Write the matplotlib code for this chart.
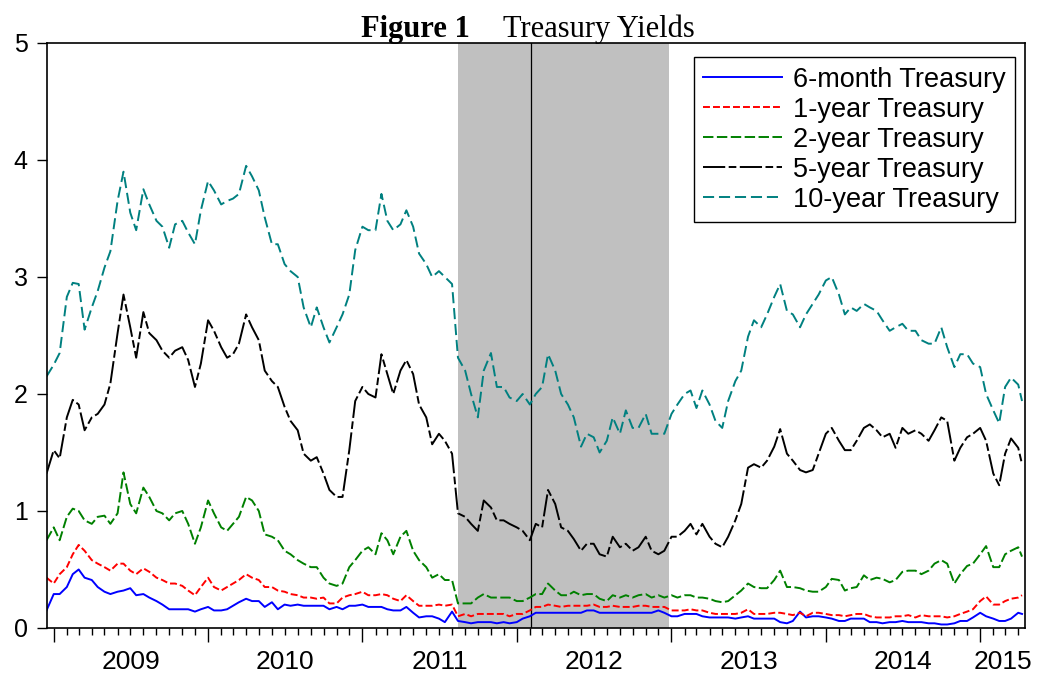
import matplotlib
matplotlib.use("Agg")
import matplotlib.pyplot as plt
import matplotlib.dates as mdates
import pandas as pd

# semi-monthly readings (1st and 15th), last point is the end of the sample
dates = list(pd.date_range("2008-12-15", "2015-04-01", freq="SMS")) + [pd.Timestamp("2015-04-10")]

t6m = [0.15,
       0.29, 0.29, 0.35, 0.46, 0.50, 0.43, 0.41, 0.35, 0.31, 0.29, 0.31, 0.32, 0.34, 0.28, 0.29, 0.26, 0.23, 0.20, 0.16, 0.16, 0.16, 0.16, 0.14, 0.16,
       0.18, 0.15, 0.15, 0.16, 0.19, 0.22, 0.25, 0.23, 0.23, 0.18, 0.22, 0.16, 0.20, 0.19, 0.20, 0.19, 0.19, 0.19, 0.19, 0.16, 0.18, 0.16, 0.19, 0.19,
       0.20, 0.18, 0.18, 0.18, 0.16, 0.15, 0.15, 0.18, 0.13, 0.09, 0.10, 0.10, 0.08, 0.05, 0.14, 0.06, 0.05, 0.04, 0.05, 0.05, 0.05, 0.04, 0.05, 0.04,
       0.05, 0.08, 0.10, 0.13, 0.13, 0.13, 0.13, 0.13, 0.13, 0.13, 0.13, 0.15, 0.15, 0.13, 0.13, 0.13, 0.13, 0.13, 0.13, 0.13, 0.13, 0.13, 0.15, 0.13,
       0.10, 0.10, 0.12, 0.12, 0.12, 0.10, 0.09, 0.09, 0.09, 0.09, 0.08, 0.09, 0.10, 0.08, 0.08, 0.08, 0.08, 0.05, 0.04, 0.06, 0.14, 0.09, 0.10, 0.10,
       0.09, 0.08, 0.06, 0.06, 0.08, 0.08, 0.08, 0.05, 0.05, 0.04, 0.05, 0.05, 0.06, 0.05, 0.05, 0.05, 0.04, 0.04, 0.03, 0.03, 0.04, 0.06, 0.06, 0.09,
       0.13, 0.10, 0.08, 0.06, 0.06, 0.08, 0.13, 0.12]

t1y = [0.43,
       0.38, 0.46, 0.52, 0.63, 0.71, 0.66, 0.58, 0.55, 0.52, 0.49, 0.55, 0.55, 0.49, 0.46, 0.51, 0.48, 0.43, 0.41, 0.38, 0.38, 0.36, 0.32, 0.28, 0.35,
       0.43, 0.35, 0.32, 0.35, 0.38, 0.41, 0.46, 0.43, 0.41, 0.35, 0.35, 0.32, 0.31, 0.29, 0.28, 0.26, 0.26, 0.25, 0.26, 0.21, 0.21, 0.26, 0.28, 0.29,
       0.31, 0.28, 0.28, 0.29, 0.28, 0.25, 0.23, 0.28, 0.23, 0.19, 0.19, 0.19, 0.20, 0.19, 0.20, 0.10, 0.12, 0.10, 0.12, 0.12, 0.12, 0.12, 0.12, 0.10,
       0.12, 0.12, 0.15, 0.18, 0.18, 0.20, 0.19, 0.18, 0.19, 0.19, 0.19, 0.19, 0.20, 0.18, 0.18, 0.19, 0.18, 0.18, 0.18, 0.19, 0.19, 0.18, 0.18, 0.18,
       0.15, 0.15, 0.15, 0.16, 0.15, 0.15, 0.13, 0.12, 0.12, 0.12, 0.12, 0.13, 0.16, 0.12, 0.12, 0.12, 0.13, 0.13, 0.12, 0.11, 0.13, 0.10, 0.13, 0.13,
       0.12, 0.11, 0.11, 0.10, 0.11, 0.12, 0.12, 0.10, 0.09, 0.09, 0.09, 0.10, 0.10, 0.11, 0.09, 0.11, 0.10, 0.10, 0.10, 0.09, 0.10, 0.12, 0.14, 0.16,
       0.23, 0.27, 0.20, 0.20, 0.23, 0.25, 0.26, 0.28]

t2y = [0.75,
       0.86, 0.75, 0.95, 1.02, 1.00, 0.92, 0.89, 0.95, 0.96, 0.89, 0.98, 1.33, 1.06, 0.98, 1.20, 1.12, 1.00, 0.98, 0.92, 0.98, 1.00, 0.89, 0.72, 0.86,
       1.09, 0.98, 0.86, 0.83, 0.89, 0.95, 1.12, 1.09, 1.00, 0.80, 0.78, 0.75, 0.66, 0.63, 0.58, 0.55, 0.52, 0.52, 0.43, 0.38, 0.36, 0.38, 0.52, 0.58,
       0.66, 0.69, 0.63, 0.81, 0.75, 0.63, 0.78, 0.83, 0.66, 0.58, 0.52, 0.43, 0.46, 0.41, 0.41, 0.21, 0.21, 0.21, 0.26, 0.29, 0.26, 0.26, 0.26, 0.26,
       0.23, 0.23, 0.26, 0.29, 0.29, 0.38, 0.32, 0.28, 0.28, 0.31, 0.28, 0.29, 0.29, 0.25, 0.23, 0.28, 0.26, 0.28, 0.26, 0.28, 0.29, 0.26, 0.28, 0.26,
       0.28, 0.26, 0.28, 0.28, 0.26, 0.26, 0.25, 0.23, 0.22, 0.23, 0.28, 0.32, 0.38, 0.35, 0.34, 0.34, 0.41, 0.49, 0.35, 0.35, 0.34, 0.32, 0.31, 0.31,
       0.35, 0.42, 0.41, 0.32, 0.34, 0.35, 0.45, 0.41, 0.43, 0.42, 0.39, 0.41, 0.48, 0.49, 0.49, 0.46, 0.49, 0.55, 0.58, 0.55, 0.38, 0.46, 0.53, 0.55,
       0.63, 0.70, 0.52, 0.52, 0.63, 0.66, 0.69, 0.61]

t5y = [1.32,
       1.52, 1.45, 1.80, 1.95, 1.91, 1.69, 1.80, 1.83, 1.91, 2.09, 2.52, 2.85, 2.57, 2.31, 2.70, 2.52, 2.46, 2.37, 2.31, 2.37, 2.40, 2.29, 2.06, 2.26,
       2.63, 2.54, 2.40, 2.31, 2.34, 2.43, 2.68, 2.57, 2.46, 2.20, 2.11, 2.06, 1.89, 1.77, 1.69, 1.49, 1.43, 1.46, 1.32, 1.18, 1.12, 1.12, 1.52, 1.94,
       2.06, 2.00, 1.97, 2.34, 2.17, 2.00, 2.20, 2.29, 2.17, 1.91, 1.80, 1.57, 1.66, 1.60, 1.49, 0.98, 0.95, 0.89, 0.83, 1.09, 1.03, 0.92, 0.92, 0.89,
       0.86, 0.83, 0.75, 0.89, 0.86, 1.18, 1.06, 0.86, 0.83, 0.76, 0.66, 0.72, 0.72, 0.63, 0.61, 0.78, 0.69, 0.72, 0.66, 0.69, 0.78, 0.66, 0.63, 0.66,
       0.78, 0.78, 0.83, 0.89, 0.80, 0.89, 0.78, 0.72, 0.69, 0.78, 0.92, 1.06, 1.37, 1.40, 1.37, 1.43, 1.55, 1.70, 1.49, 1.43, 1.35, 1.33, 1.35, 1.49,
       1.66, 1.71, 1.60, 1.52, 1.52, 1.60, 1.71, 1.74, 1.69, 1.63, 1.66, 1.54, 1.71, 1.66, 1.69, 1.66, 1.60, 1.69, 1.80, 1.77, 1.43, 1.54, 1.63, 1.66,
       1.71, 1.60, 1.32, 1.22, 1.49, 1.62, 1.54, 1.40]

t10y = [2.15,
        2.25, 2.35, 2.83, 2.95, 2.94, 2.55, 2.74, 2.88, 3.08, 3.22, 3.65, 3.90, 3.55, 3.40, 3.75, 3.62, 3.48, 3.43, 3.25, 3.45, 3.48, 3.38, 3.28, 3.57,
        3.82, 3.74, 3.62, 3.65, 3.67, 3.71, 3.95, 3.86, 3.74, 3.51, 3.28, 3.28, 3.11, 3.05, 3.00, 2.74, 2.57, 2.74, 2.57, 2.44, 2.57, 2.68, 2.85, 3.23,
        3.43, 3.40, 3.40, 3.71, 3.48, 3.40, 3.45, 3.57, 3.43, 3.20, 3.11, 3.00, 3.05, 3.00, 2.94, 2.31, 2.20, 2.00, 1.80, 2.20, 2.35, 2.06, 2.06, 1.97,
        1.94, 2.00, 1.91, 2.00, 2.06, 2.34, 2.20, 2.00, 1.91, 1.80, 1.55, 1.66, 1.63, 1.50, 1.60, 1.80, 1.66, 1.86, 1.71, 1.71, 1.83, 1.66, 1.66, 1.66,
        1.83, 1.91, 2.00, 2.03, 1.88, 2.03, 1.91, 1.77, 1.71, 1.94, 2.11, 2.20, 2.49, 2.63, 2.57, 2.68, 2.83, 2.94, 2.71, 2.68, 2.57, 2.68, 2.77, 2.85,
        2.97, 3.00, 2.85, 2.68, 2.74, 2.71, 2.77, 2.74, 2.71, 2.63, 2.54, 2.57, 2.60, 2.54, 2.54, 2.46, 2.43, 2.43, 2.57, 2.40, 2.23, 2.34, 2.34, 2.26,
        2.23, 2.00, 1.86, 1.75, 2.06, 2.14, 2.08, 1.94]

labels = ["6-month Treasury", "1-year Treasury", "2-year Treasury", "5-year Treasury", "10-year Treasury"]
colors = ["#0000ff", "#ff0000", "#008000", "#000000", "#008080"]
dash_styles = ["-", (0, (5, 2.2)), (0, (7.5, 2.5)), (0, (16, 2.5, 5.5, 2.5)), (0, (8, 3.5))]

year_labels = ["2009", "2010", "2011", "2012", "2013", "2014", "2015"]
x_start = pd.Timestamp("2008-12-16")
x_end = pd.Timestamp("2015-04-17")
shade_start = pd.Timestamp("2011-08-14")
shade_end = pd.Timestamp("2012-12-27")
vline_date = pd.Timestamp("2012-02-03")

plt.rcParams["font.family"] = ["Liberation Sans", "DejaVu Sans"]
plt.rcParams["lines.scale_dashes"] = False

fig = plt.figure(figsize=(10.53, 6.77), dpi=100)
ax = fig.add_axes([0.0446, 0.0724, 0.9288, 0.8641])

ax.axvspan(shade_start, shade_end, color="#c0c0c0", lw=0, zorder=0)
ax.axvline(vline_date, color="black", lw=0.9, zorder=1)

for series, lab, col, ls in zip([t6m, t1y, t2y, t5y, t10y], labels, colors, dash_styles):
    ax.plot(dates, series, color=col, linestyle=ls, lw=1.4, label=lab, zorder=2)

ax.set_xlim(x_start, x_end)
ax.set_ylim(0, 5)
ax.set_yticks([0, 1, 2, 3, 4, 5])
ax.tick_params(axis="y", labelsize=18, length=7, width=1, pad=7, direction="out")

ax.xaxis.set_major_locator(mdates.YearLocator())
ax.xaxis.set_minor_locator(mdates.MonthLocator())
ax.xaxis.set_major_formatter(plt.NullFormatter())
ax.tick_params(axis="x", which="major", length=10, width=1, direction="out")
ax.tick_params(axis="x", which="minor", length=5, width=1, direction="out")

# year labels centred on each year (2015 centred on its visible part)
mids = []
for y in year_labels:
    y0 = pd.Timestamp(f"{y}-01-01")
    y1 = min(pd.Timestamp(f"{int(y) + 1}-01-01"), x_end)
    mids.append(mdates.date2num(y0) + (mdates.date2num(y1) - mdates.date2num(y0)) / 2)
sec = ax.secondary_xaxis("bottom")
sec.set_xticks(mids)
sec.set_xticklabels(year_labels)
sec.tick_params(length=0, labelsize=19, pad=16)
sec.spines["bottom"].set_visible(False)

for s in ax.spines.values():
    s.set_linewidth(1.2)

leg = ax.legend(loc="upper right", bbox_to_anchor=(0.9898, 0.976), borderaxespad=0,
                fontsize=19.5, handlelength=2.9, handletextpad=0.4, labelspacing=0.15,
                borderpad=0.35, frameon=True, fancybox=False, edgecolor="black", framealpha=1)
leg.get_frame().set_linewidth(1.0)

fig.text(0.4463, 0.945, "Figure 1", fontfamily="Liberation Serif", fontweight="bold",
         fontsize=22, ha="right", va="baseline")
fig.text(0.4777, 0.945, "Treasury Yields", fontfamily="Liberation Serif",
         fontsize=22, ha="left", va="baseline")

fig.savefig("out.png", dpi=100)
